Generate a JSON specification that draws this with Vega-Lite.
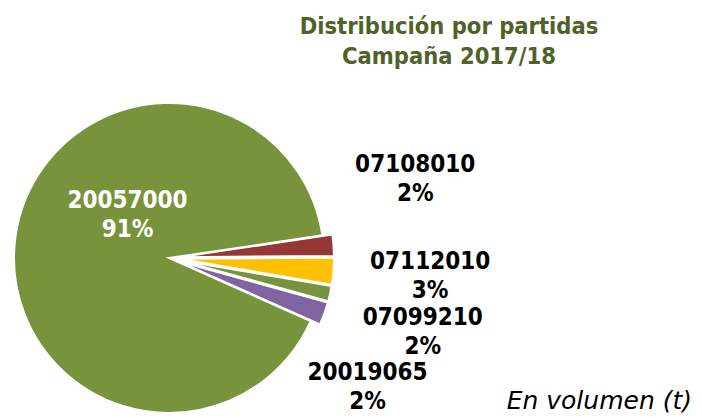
{
  "$schema": "https://vega.github.io/schema/vega-lite/v6.json",
  "padding": {"left": 10, "top": 14, "right": 0, "bottom": 0},
  "background": "white",
  "title": {
    "text": ["Distribución por partidas", "Campaña 2017/18"],
    "font": "DejaVu Sans Condensed",
    "fontSize": 23.5,
    "fontWeight": "bold",
    "color": "#4F6228",
    "anchor": "middle",
    "frame": "group",
    "dx": 280,
    "offset": 31,
    "lineHeight": 30
  },
  "vconcat": [
    {
      "width": 310,
      "height": 310,
      "title": {
        "text": "En volumen (t)",
        "orient": "bottom",
        "anchor": "end",
        "frame": "group",
        "dx": 368,
        "offset": -28,
        "font": "DejaVu Sans",
        "fontSize": 25,
        "fontStyle": "italic",
        "fontWeight": "normal",
        "color": "#000000"
      },
      "data": {
        "values": [
          {"code": "07108010", "v": 2.2, "rank": 1},
          {"code": "07112010", "v": 2.8, "rank": 2},
          {"code": "07099210", "v": 1.6, "rank": 3},
          {"code": "20019065", "v": 2.4, "rank": 4},
          {"code": "20057000", "v": 91.0, "rank": 5}
        ]
      },
      "transform": [
        {"joinaggregate": [{"op": "sum", "field": "v", "as": "total"}]},
        {"calculate": "datum.code + '\\n' + format(datum.v / datum.total, '.0%')", "as": "label"}
      ],
      "encoding": {
        "theta": {"field": "v", "type": "quantitative", "stack": true, "scale": {"range": [1.4242, 7.7074]}},
        "order": {"field": "rank", "type": "quantitative"},
        "color": {
          "field": "code",
          "type": "nominal",
          "scale": {
            "domain": ["07108010", "07112010", "07099210", "20019065", "20057000"],
            "range": ["#953735", "#FFC000", "#77933C", "#8064A2", "#77933C"]
          },
          "legend": null
        }
      },
      "layer": [
        {
          "mark": {
            "type": "arc",
            "outerRadius": 155,
            "stroke": "white",
            "strokeWidth": 2,
            "xOffset": {"expr": "datum.code === '20057000' ? 0 : 10 * sin(1.4242 + PI * (datum.v_start + datum.v_end) / 100)"},
            "yOffset": {"expr": "datum.code === '20057000' ? 0 : -10 * cos(1.4242 + PI * (datum.v_start + datum.v_end) / 100)"}
          }
        },
        {
          "mark": {
            "type": "text",
            "font": "DejaVu Sans Condensed",
            "fontSize": 24,
            "fontWeight": "bold",
            "lineBreak": "\n",
            "lineHeight": 29,
            "align": "center",
            "baseline": "middle",
            "radius": {"expr": "datum.code === '20057000' ? 57 : 265"},
            "dx": {"expr": "datum.code === '07108010' ? -18 : datum.code === '20019065' ? -51 : datum.code === '20057000' ? 15 : datum.code === '07099210' ? -5 : -3"},
            "dy": {"expr": "datum.code === '07108010' ? -72 : datum.code === '07112010' ? -17 : datum.code === '07099210' ? 3 : datum.code === '20019065' ? 26 : -49"}
          },
          "encoding": {
            "text": {"field": "label", "type": "nominal"},
            "color": {
              "condition": {"test": "datum.code === '20057000'", "value": "#FFFFFF"},
              "value": "#000000"
            }
          }
        }
      ]
    }
  ],
  "config": {"view": {"stroke": null}}
}
